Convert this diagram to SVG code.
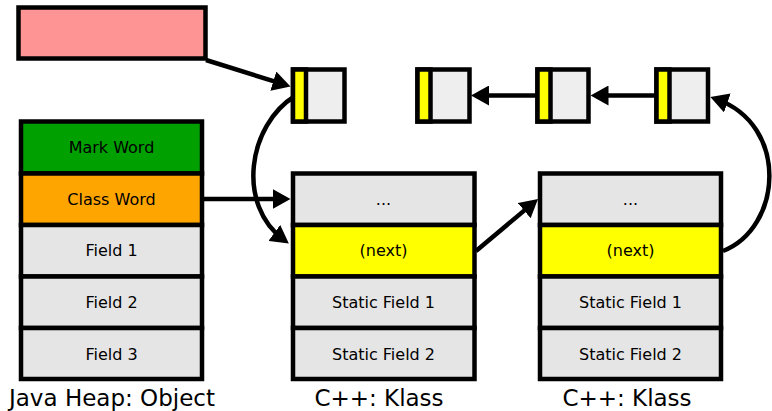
<svg xmlns="http://www.w3.org/2000/svg" width="772" height="411" viewBox="0 0 772 411">
  <style>
    .box { stroke: #000; stroke-width: 4.5; }
    .gray { fill: #e5e5e5; }
    .light { fill: #eeeeee; }
    .yellow { fill: #ffff00; }
    .label { font-family: "DejaVu Sans", "Liberation Sans", sans-serif; font-size: 16px; text-anchor: middle; fill: #000; }
    .title { font-family: "DejaVu Sans", "Liberation Sans", sans-serif; font-size: 23px; text-anchor: middle; fill: #000; }
    .link { fill: none; stroke: #000; stroke-width: 4.5; marker-end: url(#arrow); }
  </style>
  <defs>
    <marker id="arrow" viewBox="0 0 18 20" markerWidth="18" markerHeight="20" refX="12" refY="10" orient="auto" markerUnits="userSpaceOnUse">
      <path d="M0,0 L18,10 L0,20 z" fill="#000"/>
    </marker>
  </defs>

  <!-- connectors -->
  <g id="connectors">
    <path class="link" d="M206,60 L284.8,84.7"/>
    <path class="link" d="M204,199 H284.5"/>
    <path class="link" d="M295,96 C248,125 236,205 284,240"/>
    <path class="link" d="M476,251 L533.4,202.9"/>
    <path class="link" d="M537,95.5 H477"/>
    <path class="link" d="M656,95.5 H596.5"/>
    <path class="link" d="M723,251 C782,228 790,125 716,99"/>
  </g>

  <!-- reference holder -->
  <g id="ref">
    <rect class="box" x="18.5" y="7.5" width="187" height="51" fill="#ff9494"/>
  </g>

  <!-- object layout -->
  <g id="object">
    <rect class="box" x="21" y="121.5" width="181" height="52" fill="#00a000"/>
    <rect class="box" x="21" y="173.5" width="181" height="51.5" fill="#ffa500"/>
    <rect class="box gray" x="21" y="225" width="181" height="51.5"/>
    <rect class="box gray" x="21" y="276.5" width="181" height="51.5"/>
    <rect class="box gray" x="21" y="328" width="181" height="51"/>
    <text class="label" x="111.5" y="153">Mark Word</text>
    <text class="label" x="111.5" y="204.5">Class Word</text>
    <text class="label" x="111.5" y="256">Field 1</text>
    <text class="label" x="111.5" y="307.5">Field 2</text>
    <text class="label" x="111.5" y="359.5">Field 3</text>
  </g>

  <!-- first klass -->
  <g id="klass1">
    <rect class="box gray" x="293" y="173.5" width="181.5" height="51.5"/>
    <rect class="box yellow" x="293" y="225" width="181.5" height="51.5"/>
    <rect class="box gray" x="293" y="276.5" width="181.5" height="51.5"/>
    <rect class="box gray" x="293" y="328" width="181.5" height="51"/>
    <text class="label" x="383.5" y="204.5">...</text>
    <text class="label" x="383.5" y="256">(next)</text>
    <text class="label" x="383.5" y="307.5">Static Field 1</text>
    <text class="label" x="383.5" y="359.5">Static Field 2</text>
  </g>

  <!-- second klass -->
  <g id="klass2">
    <rect class="box gray" x="540" y="173.5" width="181" height="51.5"/>
    <rect class="box yellow" x="540" y="225" width="181" height="51.5"/>
    <rect class="box gray" x="540" y="276.5" width="181" height="51.5"/>
    <rect class="box gray" x="540" y="328" width="181" height="51"/>
    <text class="label" x="630.5" y="204.5">...</text>
    <text class="label" x="630.5" y="256">(next)</text>
    <text class="label" x="630.5" y="307.5">Static Field 1</text>
    <text class="label" x="630.5" y="359.5">Static Field 2</text>
  </g>

  <!-- list cells -->
  <g id="cell1">
    <rect class="box light" x="293" y="69.5" width="51.5" height="52"/>
    <rect class="box yellow" x="293" y="69.5" width="13" height="52"/>
  </g>
  <g id="cell2">
    <rect class="box light" x="417.5" y="69.5" width="52" height="52"/>
    <rect class="box yellow" x="417.5" y="69.5" width="13" height="52"/>
  </g>
  <g id="cell3">
    <rect class="box light" x="537.5" y="69.5" width="51" height="52"/>
    <rect class="box yellow" x="537.5" y="69.5" width="13" height="52"/>
  </g>
  <g id="cell4">
    <rect class="box light" x="656.5" y="69.5" width="51.5" height="52"/>
    <rect class="box yellow" x="656.5" y="69.5" width="13" height="52"/>
  </g>

  <!-- captions -->
  <g id="captions">
    <text class="title" x="112" y="405.5">Java Heap: Object</text>
    <text class="title" x="379" y="405.5">C++: Klass</text>
    <text class="title" x="627" y="405.5">C++: Klass</text>
  </g>
</svg>
